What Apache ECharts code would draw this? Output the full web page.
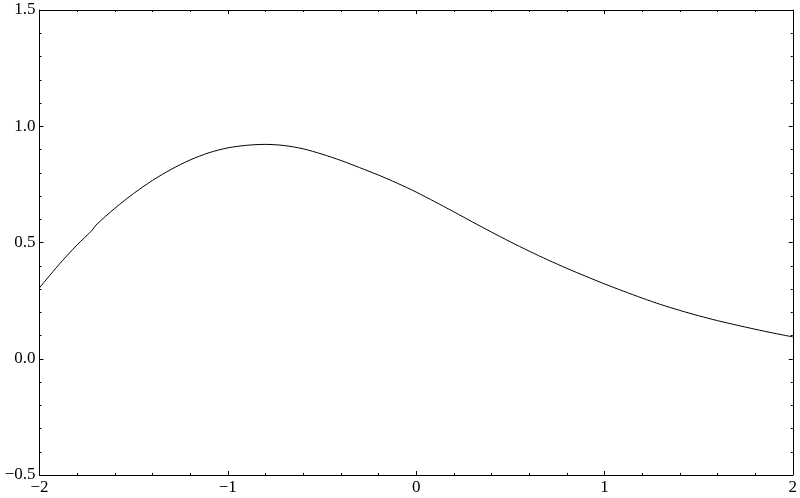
<!DOCTYPE html>
<html>
<head>
<meta charset="utf-8">
<script src="https://cdn.jsdelivr.net/npm/echarts@6/dist/echarts.min.js"></script>
<style>html,body{margin:0;padding:0;background:#fff}#c{width:800px;height:498px}</style>
</head>
<body>
<div id="c"></div>
<script>
const xs = [-2.0,-1.9,-1.8,-1.72,-1.70,-1.6,-1.5,-1.4,-1.3,-1.2,-1.1,-1.0,-0.9,-0.8,-0.7,-0.6,-0.5,-0.4,-0.3,-0.2,-0.1,0.0,0.1,0.2,0.3,0.4,0.5,0.6,0.7,0.8,0.9,1.0,1.1,1.2,1.3,1.4,1.5,1.6,1.7,1.8,1.9,2.0];
const ys = [0.305,0.402,0.490,0.553,0.575,0.647,0.711,0.767,0.815,0.855,0.886,0.907,0.918,0.922,0.917,0.903,0.880,0.853,0.822,0.790,0.755,0.717,0.675,0.632,0.588,0.545,0.503,0.463,0.425,0.389,0.355,0.322,0.291,0.261,0.233,0.208,0.185,0.164,0.145,0.127,0.110,0.094];
const xTicks = [-2,-1,0,1,2];
const yTicks = [-0.5,0,0.5,1.0,1.5];

const fmtMinus = s => s.replace('-', '\u2212');
const font = {fontFamily:'Liberation Serif', fontSize:17, color:'#000'};
function mkX(pos, show){
  return {type:'value', position:pos, min:xTicks[0], max:xTicks[xTicks.length-1], interval:1,
    axisLine:{show:true, onZero:false, lineStyle:{color:'#000', width:1}},
    axisTick:{show:true, inside:true, length:4, lineStyle:{color:'#000'}},
    minorTick:{show:true, splitNumber:5, length:2, lineStyle:{color:'#000'}},
    splitLine:{show:false}, minorSplitLine:{show:false},
    axisLabel:Object.assign({show:show, margin:4, formatter:v=>fmtMinus(String(v))}, font)};
}
function mkY(pos, show){
  return {type:'value', position:pos, min:yTicks[0], max:yTicks[yTicks.length-1], interval:0.5,
    axisLine:{show:true, onZero:false, lineStyle:{color:'#000', width:1}},
    axisTick:{show:true, inside:true, length:4, lineStyle:{color:'#000'}},
    minorTick:{show:true, splitNumber:5, length:2, lineStyle:{color:'#000'}},
    splitLine:{show:false}, minorSplitLine:{show:false},
    axisLabel:Object.assign({show:show, margin:4, formatter:v=>fmtMinus(v.toFixed(1))}, font)};
}
const chart = echarts.init(document.getElementById('c'), null, {renderer:'canvas'});
chart.setOption({
  animation:false,
  backgroundColor:'#fff',
  grid:{left:39.5, right:6, top:10, bottom:23, containLabel:false},
  xAxis:[mkX('bottom', true), mkX('top', false)],
  yAxis:[mkY('left', true), mkY('right', false)],
  series:[{type:'line', xAxisIndex:0, yAxisIndex:0, smooth:0.3, showSymbol:false,
    lineStyle:{color:'#000', width:1}, data: xs.map((x,i)=>[x, ys[i]])}]
});
</script>
</body>
</html>
